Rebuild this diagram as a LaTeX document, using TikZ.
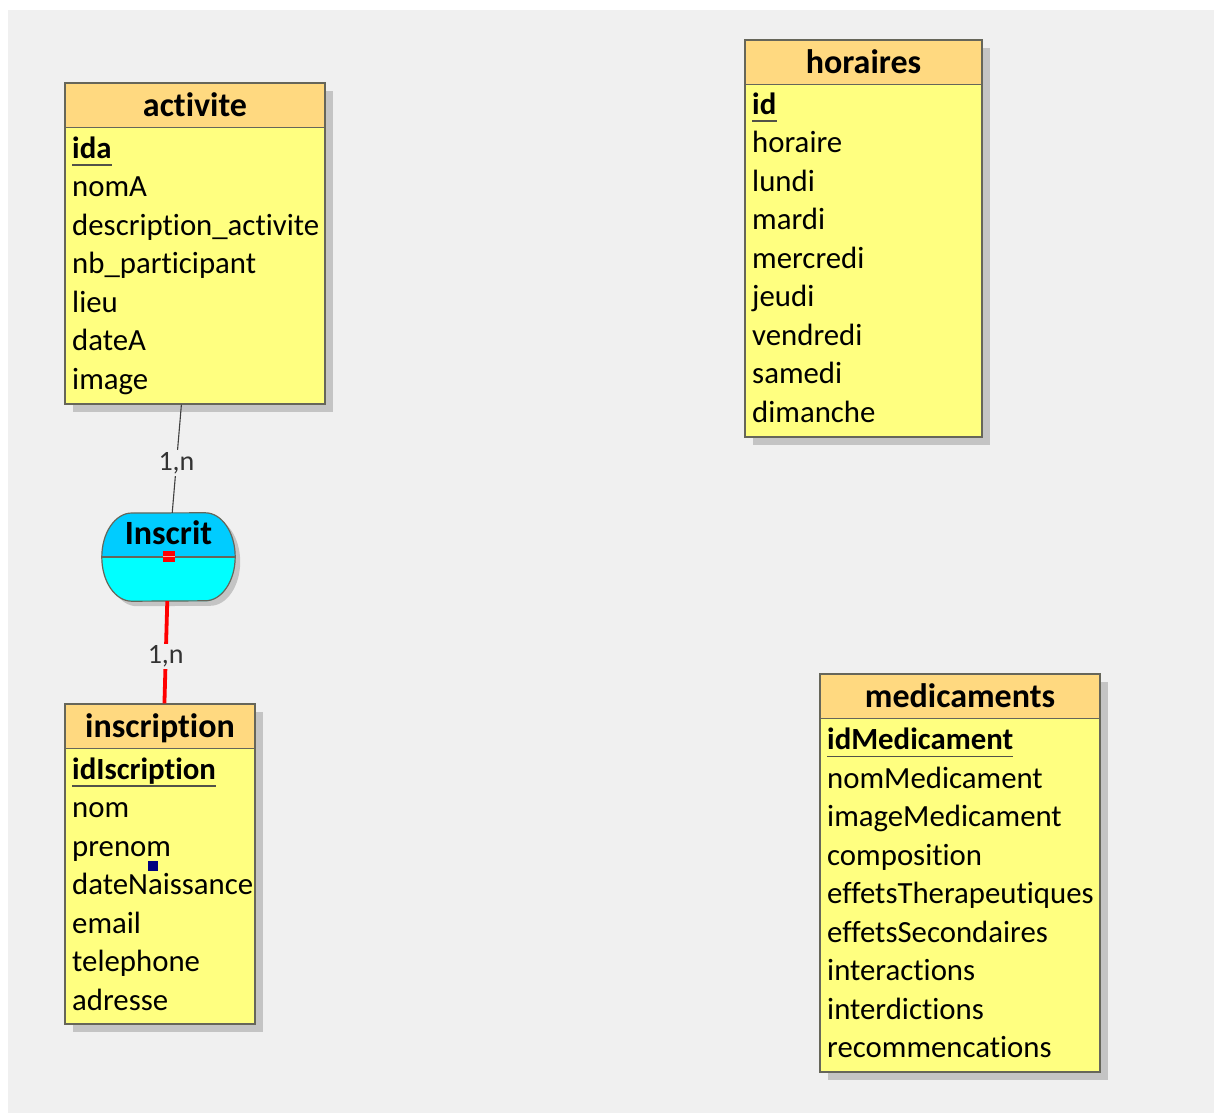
\documentclass[tikz,border=0pt]{standalone}
\usepackage{fontspec}
\setmainfont{Carlito}[Ligatures={NoCommon}]
\usepackage{tikz}
\usetikzlibrary{shadows}

\definecolor{bggray}{HTML}{F0F0F0}
\definecolor{bodyyellow}{HTML}{FFFF80}
\definecolor{headorange}{HTML}{FFD980}
\definecolor{boxline}{HTML}{66665A}
\definecolor{shadowgray}{HTML}{C4C4C4}
\definecolor{assoctop}{HTML}{00CCFF}
\definecolor{assocbottom}{HTML}{00FFFF}
\definecolor{keymarker}{HTML}{000080}

\tikzset{
  entity/.style={draw=boxline, fill=bodyyellow, line width=1.2pt, inner sep=0pt,
    drop shadow={shadow xshift=8pt, shadow yshift=-8pt, fill=shadowgray, opacity=1},
    path picture={
      \fill[headorange] (path picture bounding box.north west) rectangle ([yshift=-44.5pt]path picture bounding box.north east);
      \draw[boxline, line width=1.2pt] ([yshift=-44.5pt]path picture bounding box.north west) -- ([yshift=-44.5pt]path picture bounding box.north east);
    }},
  title/.style={anchor=base, inner sep=0pt, font=\bfseries\fontsize{34pt}{40pt}\selectfont},
  field/.style={anchor=base west, inner sep=0pt, font=\fontsize{30.8pt}{38pt}\selectfont},
  keyline/.style={draw=boxline!80!black, line width=1.4pt},
  link/.style={draw=black!75, line width=1.1pt},
  redlink/.style={draw=red, line width=3.8pt},
  card/.style={fill=bggray, inner sep=2pt, text=black!80, font=\fontsize{28pt}{32pt}\selectfont}
}

\begin{document}
\begin{tikzpicture}[x=1pt, y=-1pt]
	% Page and grey canvas
	\useasboundingbox (0,0) rectangle (1214,1113);
	\fill[white] (0,0) rectangle (1214,1113);
	\fill[bggray] (8,10) rectangle (1214,1113);
	
	% Entity activite
	\node[entity, minimum width=260pt, minimum height=321pt] (activite) at (195,243.5) {};
	\node[title] at (195,116.5) {activite};
	\node[field] (ida) at (72,158) {\bfseries ida};
	\draw[keyline] ([yshift=-7pt]ida.base west) -- ([yshift=-7pt]ida.base east);
	\foreach \f [count=\i] in {nomA, description\_activite, nb\_participant, lieu, dateA, image}
	\node[field] at (72,158+\i*38.5) {\f};
	
	% Entity horaires
	\node[entity, minimum width=237pt, minimum height=397pt] (horaires) at (863.5,238.5) {};
	\node[title] at (863.5,73.5) {horaires};
	\node[field] (id) at (752,114) {\bfseries id};
	\draw[keyline] ([yshift=-7pt]id.base west) -- ([yshift=-7pt]id.base east);
	\foreach \f [count=\i] in {horaire, lundi, mardi, mercredi, jeudi, vendredi, samedi, dimanche}
	\node[field] at (752,114+\i*38.5) {\f};
	
	% Entity medicaments
	\node[entity, minimum width=280pt, minimum height=398pt] (medicaments) at (960,873) {};
	\node[title] at (960,707.5) {medicaments};
	\node[field] (idMedicament) at (827,749.5) {\bfseries idMedicament};
	\draw[keyline] ([yshift=-7pt]idMedicament.base west) -- ([yshift=-7pt]idMedicament.base east);
	\foreach \f [count=\i] in {nomMedicament, imageMedicament, composition, effetsTherapeutiques, effetsSecondaires, interactions, interdictions, recommencations}
	\node[field] at (827,749.5+\i*38.5) {\f};
	
	% Entity inscription
	\node[entity, minimum width=190pt, minimum height=320pt] (inscription) at (160,864) {};
	\node[title] at (160,737.5) {inscription};
	\node[field] (idIscription) at (72,779) {\bfseries idIscription};
	\draw[keyline] ([yshift=-7pt]idIscription.base west) -- ([yshift=-7pt]idIscription.base east);
	\foreach \f [count=\i] in {nom, prenom, dateNaissance, email, telephone, adresse}
	\node[field] at (72,779+\i*38.5) {\f};
	\fill[keymarker] (148,861) rectangle (158,871);
	
	% Association Inscrit
	\node[minimum width=133pt, minimum height=88pt, inner sep=0pt] (inscrit) at (168.5,557) {};
	\fill[shadowgray] ([shift={(5pt,-5pt)}]inscrit.west) arc[start angle=180, end angle=90, x radius=30pt, y radius=44pt]
		-- ([shift={(-25pt,-5pt)}]inscrit.north east) arc[start angle=90, end angle=-90, x radius=30pt, y radius=44pt]
		-- ([shift={(35pt,-5pt)}]inscrit.south west) arc[start angle=270, end angle=180, x radius=30pt, y radius=44pt] -- cycle;
	\fill[assoctop] (inscrit.west) arc[start angle=180, end angle=90, x radius=30pt, y radius=44pt]
		-- ([xshift=-30pt]inscrit.north east) arc[start angle=90, end angle=0, x radius=30pt, y radius=44pt] -- cycle;
	\fill[assocbottom] (inscrit.west) arc[start angle=180, end angle=270, x radius=30pt, y radius=44pt]
		-- ([xshift=-30pt]inscrit.south east) arc[start angle=270, end angle=360, x radius=30pt, y radius=44pt] -- cycle;
	\draw[boxline, line width=1.2pt] (inscrit.west) arc[start angle=180, end angle=90, x radius=30pt, y radius=44pt]
		-- ([xshift=-30pt]inscrit.north east) arc[start angle=90, end angle=-90, x radius=30pt, y radius=44pt]
		-- ([xshift=30pt]inscrit.south west) arc[start angle=270, end angle=180, x radius=30pt, y radius=44pt] -- cycle;
	\draw[boxline, line width=1.2pt] (inscrit.west) -- (inscrit.east);
	\node[title] at (168.5,544) {Inscrit};
	\fill[red] (163,551) rectangle (175,562);
	\draw[red!35, line width=1pt] (163,556.5) -- (175,556.5);
	
	% Links with cardinalities
	\draw[link] (activite) -- node[card, pos=0.54] {1,n} (inscrit);
	\draw[redlink] (inscrit) -- node[card, pos=0.54] {1,n} (inscription);
\end{tikzpicture}
\end{document}
